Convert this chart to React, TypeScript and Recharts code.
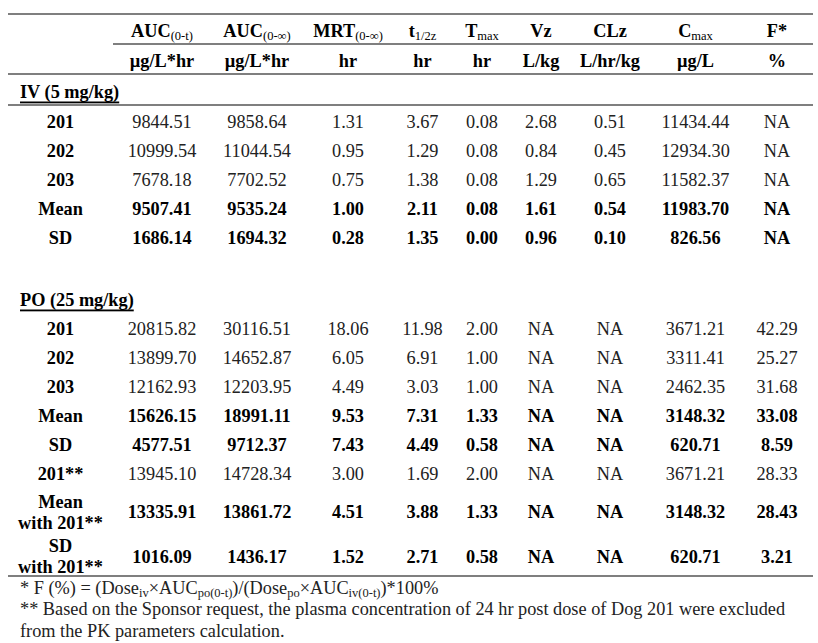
import React from 'react';
import { ScatterChart, Scatter, XAxis, YAxis, ReferenceLine } from 'recharts';

type Value = number | null; // null = NA
type Seg = { t: string; sub?: boolean };

// ---- table content ----
const PARAMS: Seg[][] = [
  [{ t: 'AUC' }, { t: '(0-t)', sub: true }],
  [{ t: 'AUC' }, { t: '(0-∞)', sub: true }],
  [{ t: 'MRT' }, { t: '(0-∞)', sub: true }],
  [{ t: 't' }, { t: '1/2z', sub: true }],
  [{ t: 'T' }, { t: 'max', sub: true }],
  [{ t: 'Vz' }],
  [{ t: 'CLz' }],
  [{ t: 'C' }, { t: 'max', sub: true }],
  [{ t: 'F*' }],
];
const UNITS = ['µg/L*hr', 'µg/L*hr', 'hr', 'hr', 'hr', 'L/kg', 'L/hr/kg', 'µg/L', '%'];

const IV_LABEL = 'IV (5 mg/kg)';
const IV_IDS = ['201', '202', '203', 'Mean', 'SD'];
const IV_201: Value[] = [9844.51, 9858.64, 1.31, 3.67, 0.08, 2.68, 0.51, 11434.44, null];
const IV_202: Value[] = [10999.54, 11044.54, 0.95, 1.29, 0.08, 0.84, 0.45, 12934.3, null];
const IV_203: Value[] = [7678.18, 7702.52, 0.75, 1.38, 0.08, 1.29, 0.65, 11582.37, null];
const IV_MEAN: Value[] = [9507.41, 9535.24, 1.0, 2.11, 0.08, 1.61, 0.54, 11983.7, null];
const IV_SD: Value[] = [1686.14, 1694.32, 0.28, 1.35, 0.0, 0.96, 0.1, 826.56, null];

const PO_LABEL = 'PO (25 mg/kg)';
const PO_IDS = ['201', '202', '203', 'Mean', 'SD', '201**', 'Mean\nwith 201**', 'SD\nwith 201**'];
const PO_201: Value[] = [20815.82, 30116.51, 18.06, 11.98, 2.0, null, null, 3671.21, 42.29];
const PO_202: Value[] = [13899.7, 14652.87, 6.05, 6.91, 1.0, null, null, 3311.41, 25.27];
const PO_203: Value[] = [12162.93, 12203.95, 4.49, 3.03, 1.0, null, null, 2462.35, 31.68];
const PO_MEAN: Value[] = [15626.15, 18991.11, 9.53, 7.31, 1.33, null, null, 3148.32, 33.08];
const PO_SD: Value[] = [4577.51, 9712.37, 7.43, 4.49, 0.58, null, null, 620.71, 8.59];
const PO_201X: Value[] = [13945.1, 14728.34, 3.0, 1.69, 2.0, null, null, 3671.21, 28.33];
const PO_MEAN_X: Value[] = [13335.91, 13861.72, 4.51, 3.88, 1.33, null, null, 3148.32, 28.43];
const PO_SD_X: Value[] = [1016.09, 1436.17, 1.52, 2.71, 0.58, null, null, 620.71, 3.21];

const NOTES: Seg[][] = [
  [
    { t: '* F (%) = (Dose' }, { t: 'iv', sub: true }, { t: '×AUC' }, { t: 'po(0-t)', sub: true },
    { t: ')/(Dose' }, { t: 'po', sub: true }, { t: '×AUC' }, { t: 'iv(0-t)', sub: true }, { t: ')*100%' },
  ],
  [{ t: '** Based on the Sponsor request, the plasma concentration of 24 hr post dose of Dog 201 were excluded' }],
  [{ t: 'from the PK parameters calculation.' }],
];

// ---- layout ----
const WIDTH = 818;
const HEIGHT = 643;
const MARGIN = { top: 14, right: 5, bottom: 2, left: 8 };
const COL_WIDTHS = [105, 98, 92, 90, 59, 60, 58, 80, 91, 72];
const INDENT = 12;
const FONT = "'Liberation Serif', 'Times New Roman', serif";
const FS = 18.3;
const SUB_FS = 12.5;

type Cell = { x: number; y: number; segs?: Seg[]; lines?: string[]; bold?: boolean; align?: 'start'; underline?: boolean };

const fmt = (v: Value) => (v === null ? 'NA' : v.toFixed(2));
const isSummary = (id: string) => id.startsWith('Mean') || id.startsWith('SD');

const colStart: number[] = [];
COL_WIDTHS.reduce((acc, w) => (colStart.push(acc), acc + w), 0);
const colMid = COL_WIDTHS.map((w, i) => colStart[i] + w / 2);
const TABLE_W = COL_WIDTHS.reduce((a, b) => a + b, 0);

type Row = { h: number; cells: (y: number) => Cell[] };

const dataRow = (id: string, vals: Value[], h: number): Row => ({
  h,
  cells: (y) => [
    { x: colMid[0], y, lines: id.split('\n'), bold: true },
    ...vals.map((v, i) => ({ x: colMid[i + 1], y, segs: [{ t: fmt(v) }], bold: isSummary(id) })),
  ],
});
const sectionRow = (label: string, h: number): Row => ({
  h,
  cells: (y) => [{ x: INDENT, y, segs: [{ t: label }], bold: true, align: 'start', underline: true }],
});

const ROWS: Row[] = [
  { h: 30, cells: (y) => PARAMS.map((p, i) => ({ x: colMid[i + 1], y, segs: p, bold: true })) },
  { h: 30, cells: (y) => UNITS.map((u, i) => ({ x: colMid[i + 1], y, segs: [{ t: u }], bold: true })) },
  sectionRow(IV_LABEL, 31),
  ...[IV_201, IV_202, IV_203, IV_MEAN, IV_SD].map((v, i) => dataRow(IV_IDS[i], v, 29)),
  { h: 33, cells: () => [] },
  sectionRow(PO_LABEL, 29),
  ...[PO_201, PO_202, PO_203, PO_MEAN, PO_SD, PO_201X, PO_MEAN_X, PO_SD_X].map((v, i) =>
    dataRow(PO_IDS[i], v, [29, 29, 29, 29, 29, 30, 46, 43][i]),
  ),
  ...NOTES.map((n, i) => ({ h: [20, 21, 24][i], cells: (y: number) => [{ x: INDENT, y, segs: n, align: 'start' as const }] })),
];

const rowTop: number[] = [];
ROWS.reduce((acc, r) => (rowTop.push(acc), acc + r.h), 0);
const TABLE_H = ROWS.reduce((a, r) => a + r.h, 0);
const CELLS: Cell[] = ROWS.flatMap((r, i) => r.cells(rowTop[i] + r.h / 2));

const HEAD_RULE = rowTop[1];
const FULL_RULES = [0, rowTop[2], rowTop[3], rowTop[ROWS.length - NOTES.length]];

function CellText(props: any) {
  const { cx, cy, payload } = props;
  const c = payload as Cell;
  const y = cy + 2;
  const common = {
    fontFamily: FONT,
    fontSize: FS,
    fontWeight: c.bold ? 700 : 400,
    fill: c.bold ? '#000' : '#222',
    textAnchor: c.align === 'start' ? 'start' : 'middle',
    dominantBaseline: 'central',
  } as const;
  if (c.lines) {
    const off = ((c.lines.length - 1) * 21) / 2;
    return (
      <text x={cx} y={y - off} {...common}>
        {c.lines.map((l, i) => (
          <tspan key={i} x={cx} dy={i === 0 ? 0 : 21}>{l}</tspan>
        ))}
      </text>
    );
  }
  let shift = 0;
  return (
    <text x={cx} y={y} {...common} textDecoration={c.underline ? 'underline' : undefined}>
      {(c.segs || []).map((s, i) => {
        const target = s.sub ? 5 : 0;
        const dy = target - shift;
        shift = target;
        return (
          <tspan key={i} dy={dy} fontSize={s.sub ? SUB_FS : FS} fontWeight={s.sub ? 400 : undefined}>
            {s.t}
          </tspan>
        );
      })}
    </text>
  );
}

export default function App() {
  return (
    <div style={{ position: 'absolute', left: 0, top: 0, background: '#fff' }}>
      <ScatterChart width={WIDTH} height={HEIGHT} margin={MARGIN}>
        <XAxis type="number" dataKey="x" domain={[0, TABLE_W]} hide />
        <YAxis type="number" dataKey="y" domain={[0, TABLE_H]} reversed hide />
        {FULL_RULES.map((r) => (
          <ReferenceLine key={r} y={r} stroke="#000" strokeWidth={1.2} />
        ))}
        <ReferenceLine
          segment={[{ x: COL_WIDTHS[0], y: HEAD_RULE }, { x: TABLE_W, y: HEAD_RULE }]}
          stroke="#000"
          strokeWidth={1.2}
        />
        <Scatter data={CELLS} isAnimationActive={false} shape={(p: any) => <CellText {...p} />} />
      </ScatterChart>
    </div>
  );
}
